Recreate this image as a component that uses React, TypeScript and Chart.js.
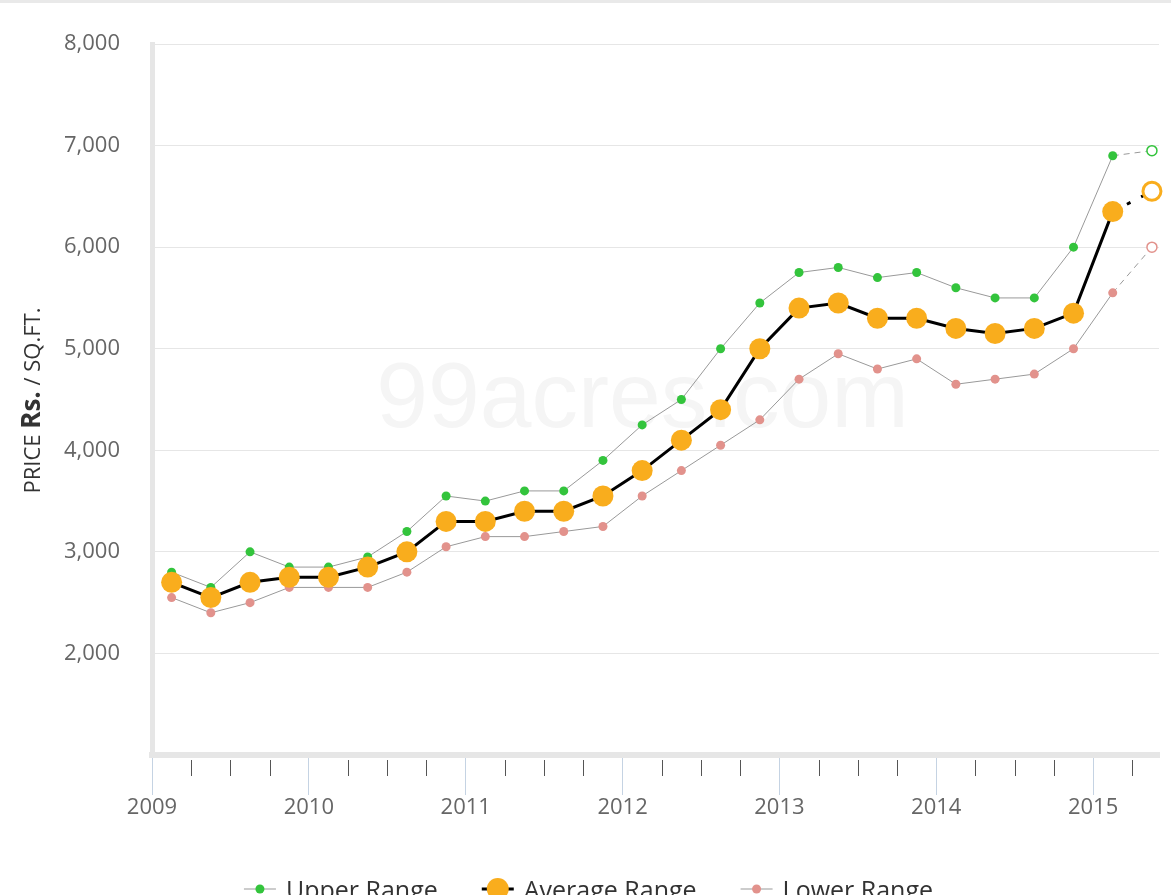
import React, { useEffect, useRef } from 'react';
import { Chart, registerables } from 'chart.js';

Chart.register(...registerables);

// ---- data ----
const periods = [
  '2009-02', '2009-05', '2009-08', '2009-11',
  '2010-02', '2010-05', '2010-08', '2010-11',
  '2011-02', '2011-05', '2011-08', '2011-11',
  '2012-02', '2012-05', '2012-08', '2012-11',
  '2013-02', '2013-05', '2013-08', '2013-11',
  '2014-02', '2014-05', '2014-08', '2014-11',
  '2015-02', '2015-05',
];
const upperRange = [
  2800, 2650, 3000, 2850, 2850, 2950, 3200, 3550, 3500, 3600, 3600, 3900, 4250,
  4500, 5000, 5450, 5750, 5800, 5700, 5750, 5600, 5500, 5500, 6000, 6900, 6950,
];
const averageRange = [
  2700, 2550, 2700, 2750, 2750, 2850, 3000, 3300, 3300, 3400, 3400, 3550, 3800,
  4100, 4400, 5000, 5400, 5450, 5300, 5300, 5200, 5150, 5200, 5350, 6350, 6550,
];
const lowerRange = [
  2550, 2400, 2500, 2650, 2650, 2650, 2800, 3050, 3150, 3150, 3200, 3250, 3550,
  3800, 4050, 4300, 4700, 4950, 4800, 4900, 4650, 4700, 4750, 5000, 5550, 6000,
];
const seriesNames = ['Upper Range', 'Average Range', 'Lower Range'];
const yAxisMin = 1000;
const yAxisMax = 8000;
const yAxisStep = 1000;
const xAxisStart = 2009;
const xAxisEnd = 2015.42;
const xTickStep = 0.25;
const watermarkText = '99acres.com';
const yTitleParts: [string, boolean][] = [['PRICE ', false], ['Rs.', true], [' / SQ.FT.', false]];

const toDecimalYear = (p: string) => {
  const [y, m] = p.split('-').map(Number);
  return y + (m - 0.5) / 12;
};
const toPoints = (arr: number[]) => periods.map((p, i) => ({ x: toDecimalYear(p), y: arr[i] }));

const GREEN = '#33c43c';
const ORANGE = '#f9ad1d';
const PINK = '#e2928c';
const FONT = '"Open Sans", "DejaVu Sans", sans-serif';

export default function App() {
  const canvasRef = useRef<HTMLCanvasElement | null>(null);

  useEffect(() => {
    document.body.style.margin = '0';
    const canvas = canvasRef.current;
    if (!canvas) return;
    const last = periods.length - 1;
    const lastDash = (dash: number[]) => ({
      borderDash: (ctx: any) => (ctx.p1DataIndex === last ? dash : undefined),
    });

    const watermarkPlugin = {
      id: 'watermark',
      beforeDatasetsDraw(chart: any) {
        const { ctx, chartArea } = chart;
        ctx.save();
        ctx.font = '93px "Liberation Sans", Arial, sans-serif';
        ctx.fillStyle = '#f5f5f5';
        ctx.textAlign = 'center';
        ctx.textBaseline = 'alphabetic';
        const cx = (chartArea.left + chartArea.right) / 2 - 13;
        const cy = (chartArea.top + chartArea.bottom) / 2 + 27;
        ctx.fillText(watermarkText, cx, cy);
        ctx.restore();
      },
    };

    const minorTickPlugin = {
      id: 'minorTicks',
      afterDraw(chart: any) {
        const xs = chart.scales.x;
        const ctx = chart.ctx;
        ctx.save();
        ctx.strokeStyle = '#555';
        ctx.lineWidth = 1;
        xs.ticks.forEach((t: any) => {
          if (!Number.isInteger(t.value)) {
            const px = Math.round(xs.getPixelForValue(t.value)) + 0.5;
            ctx.beginPath();
            ctx.moveTo(px, xs.top + 5);
            ctx.lineTo(px, xs.top + 21);
            ctx.stroke();
          }
        });
        ctx.restore();
      },
    };

    const yTitlePlugin = {
      id: 'yTitle',
      afterDraw(chart: any) {
        const ctx = chart.ctx;
        const { chartArea } = chart;
        ctx.save();
        const fontOf = (bold: boolean) => (bold ? `bold 26px ${FONT}` : `22px ${FONT}`);
        let total = 0;
        yTitleParts.forEach(([t, b]) => {
          ctx.font = fontOf(b);
          total += ctx.measureText(t).width;
        });
        ctx.translate(32, (chartArea.top + chartArea.bottom) / 2 + 1);
        ctx.rotate(-Math.PI / 2);
        ctx.fillStyle = '#333';
        ctx.textBaseline = 'alphabetic';
        ctx.textAlign = 'left';
        let x = -total / 2;
        yTitleParts.forEach(([t, b]) => {
          ctx.font = fontOf(b);
          ctx.fillText(t, x, 8);
          x += ctx.measureText(t).width;
        });
        ctx.restore();
      },
    };

    const legendPlugin = {
      id: 'customLegend',
      afterDraw(chart: any) {
        const ctx = chart.ctx;
        ctx.save();
        ctx.font = `25px ${FONT}`;
        const symW = 32;
        const gap = 10;
        const itemGap = 44;
        const widths = seriesNames.map((n) => ctx.measureText(n).width);
        const total = widths.reduce((a, w) => a + symW + gap + w, 0) + itemGap * (seriesNames.length - 1);
        let x = chart.width / 2 + 3 - total / 2;
        const yMid = 886;
        const styles = [
          { line: '#999', lw: 1, fill: GREEN, r: 4.5 },
          { line: '#000', lw: 3, fill: ORANGE, r: 11 },
          { line: '#999', lw: 1, fill: PINK, r: 4.5 },
        ];
        seriesNames.forEach((name, i) => {
          const s = styles[i];
          ctx.strokeStyle = s.line;
          ctx.lineWidth = s.lw;
          ctx.beginPath();
          ctx.moveTo(x, yMid);
          ctx.lineTo(x + symW, yMid);
          ctx.stroke();
          ctx.fillStyle = s.fill;
          ctx.beginPath();
          ctx.arc(x + symW / 2, yMid, s.r, 0, Math.PI * 2);
          ctx.fill();
          ctx.fillStyle = '#333';
          ctx.textBaseline = 'alphabetic';
          ctx.textAlign = 'left';
          ctx.fillText(name, x + symW + gap, 896);
          x += symW + gap + widths[i] + itemGap;
        });
        ctx.restore();
      },
    };

    const smallSeries = (label: string, data: number[], color: string) => ({
      label,
      data: toPoints(data),
      borderColor: '#999',
      borderWidth: 1,
      pointRadius: (c: any) => (c.dataIndex === last ? 5 : 4.5),
      pointBackgroundColor: (c: any) => (c.dataIndex === last ? '#fff' : color),
      pointBorderColor: color,
      pointBorderWidth: (c: any) => (c.dataIndex === last ? 1.5 : 0),
      segment: lastDash([6, 5]),
      clip: false as any,
      order: 1,
      tension: 0,
    });

    const chart = new Chart(canvas, {
      type: 'line',
      data: {
        datasets: [
          {
            label: seriesNames[1],
            data: toPoints(averageRange),
            borderColor: '#000',
            borderWidth: 3,
            pointRadius: (c: any) => (c.dataIndex === last ? 9 : 10.5),
            pointBackgroundColor: (c: any) => (c.dataIndex === last ? '#fff' : ORANGE),
            pointBorderColor: ORANGE,
            pointBorderWidth: (c: any) => (c.dataIndex === last ? 3 : 0),
            segment: lastDash([4, 12]),
            clip: false as any,
            order: 0,
            tension: 0,
          },
          smallSeries(seriesNames[0], upperRange, GREEN),
          smallSeries(seriesNames[2], lowerRange, PINK),
        ],
      },
      options: {
        animation: false,
        responsive: false,
        layout: { padding: { top: 41, right: 11, left: 0, bottom: 0 } },
        plugins: { legend: { display: false }, tooltip: { enabled: false } },
        scales: {
          x: {
            type: 'linear',
            min: xAxisStart,
            max: xAxisEnd,
            afterFit: (s: any) => {
              s.height = 140;
            },
            border: { color: '#e6e6e6', width: 6 },
            grid: {
              drawOnChartArea: false,
              tickLength: 40,
              tickWidth: 1,
              tickColor: (c: any) => (Number.isInteger(c.tick?.value) ? '#c5d3e3' : 'rgba(0,0,0,0)'),
            },
            ticks: {
              stepSize: xTickStep,
              includeBounds: false,
              autoSkip: false,
              maxRotation: 0,
              padding: 0,
              color: '#666',
              font: { family: FONT, size: 22 },
              callback: (v: any) => (Number.isInteger(v) ? String(v) : ''),
            },
          },
          y: {
            type: 'linear',
            min: yAxisMin,
            max: yAxisMax,
            afterFit: (s: any) => {
              s.width = 152;
              s.paddingTop = 0;
              s.paddingBottom = 0;
            },
            border: { color: '#e6e6e6', width: 5 },
            grid: { color: '#e6e6e6', lineWidth: 1, drawTicks: false },
            ticks: {
              stepSize: yAxisStep,
              padding: 32,
              color: '#666',
              font: { family: FONT, size: 22 },
              callback: (v: any) => (v === yAxisMin ? '' : Number(v).toLocaleString('en-US')),
            },
          },
        },
      },
      plugins: [watermarkPlugin, minorTickPlugin, yTitlePlugin, legendPlugin],
    } as any);

    return () => chart.destroy();
  }, []);

  return (
    <div style={{ borderTop: '3px solid #e9e9e9', width: 1171, height: 892, overflow: 'hidden' }}>
      <canvas ref={canvasRef} width={1171} height={892} style={{ display: 'block' }} />
    </div>
  );
}
